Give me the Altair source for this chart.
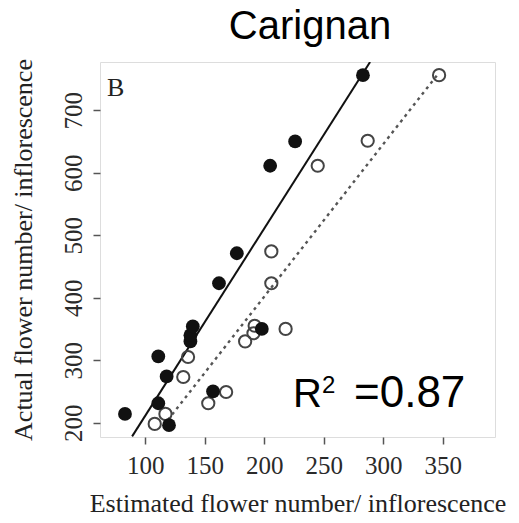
import altair as alt
import pandas as pd

# Estimated vs actual flower number (filled = one method, open = other)
est_filled = [83, 111, 120, 118, 111, 138, 138, 140, 157, 162, 177, 198, 205, 226, 283]
act_filled = [214, 231, 196, 274, 306, 330, 340, 354, 250, 423, 471, 350, 611, 650, 756]
est_open = [117, 153, 108, 132, 136, 184, 191, 192, 168, 206, 206, 218, 245, 287, 347]
act_open = [214, 231, 198, 273, 305, 330, 343, 355, 249, 423, 474, 350, 611, 651, 756]

# fitted lines (read endpoints)
solid_x = [89, 289]
solid_y = [178, 777]
dash_x = [119, 347]
dash_y = [204, 760]

x_ticks = [100, 150, 200, 250, 300, 350]
y_ticks = [200, 300, 400, 500, 600, 700]

x_dom = [62, 394]
y_dom = [177, 777]

SERIF = "Liberation Serif"
SANS = "Liberation Sans"

filled_df = pd.DataFrame({"est": est_filled, "act": act_filled})
open_df = pd.DataFrame({"est": est_open, "act": act_open})
solid_df = pd.DataFrame({"est": solid_x, "act": solid_y})
dash_df = pd.DataFrame({"est": dash_x, "act": dash_y})

xs = alt.Scale(domain=x_dom, nice=False, zero=False)
ys = alt.Scale(domain=y_dom, nice=False, zero=False)

xax = alt.Axis(values=x_ticks, grid=False, domain=False, tickSize=7, tickWidth=1.5,
               tickColor="#555", labelFont=SERIF, labelFontSize=25, labelColor="#2a2a2a",
               labelPadding=9, title="Estimated flower number/ inflorescence",
               titleFont=SERIF, titleFontSize=26, titleFontWeight="normal",
               titleColor="#222", titlePadding=12)
yax = alt.Axis(values=y_ticks, grid=False, domain=False, tickSize=7, tickWidth=1.5,
               tickColor="#555", labelFont=SERIF, labelFontSize=25, labelColor="#2a2a2a",
               labelAngle=270, labelPadding=7, title="Actual flower number/ inflorescence",
               titleFont=SERIF, titleFontSize=26, titleFontWeight="normal",
               titleColor="#222", titlePadding=25)

base_x = alt.X("est:Q", scale=xs, axis=xax)
base_y = alt.Y("act:Q", scale=ys, axis=yax)

solid = alt.Chart(solid_df).mark_line(color="#111", strokeWidth=2, clip=True).encode(
    x=base_x, y=base_y)
dashed = alt.Chart(dash_df).mark_line(color="#555", strokeWidth=2.4, strokeDash=[3, 4],
                                      clip=True).encode(x="est:Q", y="act:Q")
filled = alt.Chart(filled_df).mark_point(filled=True, shape="circle", size=190,
                                         color="#111", opacity=1).encode(x="est:Q", y="act:Q")
opened = alt.Chart(open_df).mark_point(filled=False, shape="circle", size=150,
                                       color="#444", strokeWidth=2, opacity=1).encode(
    x="est:Q", y="act:Q")

def note(txt, font, size, x, y, color="#000"):
    return alt.Chart(pd.DataFrame({"t": [txt]})).mark_text(
        font=font, fontSize=size, color=color, align="left", baseline="alphabetic"
    ).encode(text="t:N", x=alt.value(x), y=alt.value(y))

title_t = alt.Chart(pd.DataFrame({"t": ["Carignan"]})).mark_text(
    font=SANS, fontSize=40, color="#000", align="center", baseline="alphabetic"
).encode(text="t:N", x=alt.value(210), y=alt.value(-23))
b_t = note("B", SERIF, 26, 7, 34, "#222")
r_t = note("R", SANS, 40, 193, 345)
r2_t = note("2", SANS, 24, 222, 331)
r3_t = note("=0.87", SANS, 44, 254, 345)

chart = alt.layer(solid, dashed, opened, filled, title_t, b_t, r_t, r2_t, r3_t).properties(
    width=395, height=375,
    autosize=alt.AutoSizeParams(type="none"),
    padding={"left": 100, "top": 62, "right": 24, "bottom": 86},
).configure_view(stroke="#555", strokeWidth=2.5).configure(background="white")

chart.save("out.html", embed_options={"renderer": "svg", "actions": False})
